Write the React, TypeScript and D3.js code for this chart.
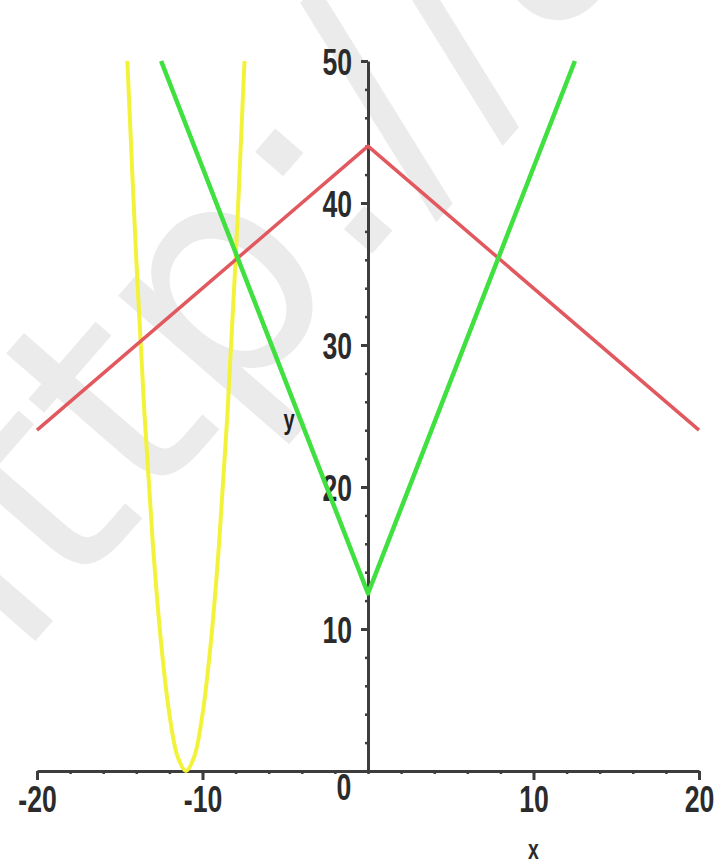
import * as d3 from 'd3'
import { useEffect, useRef } from 'react'

// three curves
const redX = [-20, 0, 20]
const redY = [24, 44, 24]
const greenX = [-12.5, 0, 12.5]
const greenY = [50, 12.5, 50]
const yellowX = [-14.54, -14, -13.5, -13, -12.5, -12, -11.5, -11, -10.5, -10, -9.5, -9, -8.5, -8, -7.5, -7.46]
const yellowY = [50, 36, 25, 16, 9, 4, 1, 0, 1, 4, 9, 16, 25, 36, 49, 50]

const xMajor = [-20, -10, 10, 20]
const yMajor = [10, 20, 30, 40, 50]
const watermark = 'http://a'

const width = 719
const height = 867

const App = () => {
  const svgRef = useRef<SVGSVGElement>(null)

  useEffect(() => {
    const svg = d3.select(svgRef.current)
    svg.selectAll('*').remove()

    const x = d3.scaleLinear([-20, 20], [37, 699])
    const y = d3.scaleLinear([0, 50], [771, 61])
    const labelFont = 'Liberation Sans, Arial, sans-serif'

    // faint watermark behind everything
    svg.append('text')
      .attr('transform', 'translate(-55,745) rotate(-49)')
      .attr('font-family', 'DejaVu Sans, sans-serif')
      .attr('font-size', 300)
      .attr('fill', '#ebebeb')
      .text(watermark)

    // axes
    const xMinor = d3.range(-20, 21, 2)
    const yMinor = d3.range(0, 51, 2)

    svg.append('g')
      .attr('transform', `translate(0,${y(0)})`)
      .call(d3.axisBottom(x).tickValues(xMinor).tickSize(3).tickSizeOuter(0).tickFormat(() => ''))
      .call(g => g.select('.domain').attr('stroke', '#3d3d3d').attr('stroke-width', 3))
      .call(g => g.selectAll('.tick line').attr('stroke', '#3d3d3d').attr('stroke-width', 2.5))

    svg.append('g')
      .attr('transform', `translate(0,${y(0)})`)
      .call(d3.axisBottom(x).tickValues(xMajor).tickSize(9).tickSizeOuter(0).tickFormat(d => String(d)))
      .call(g => g.select('.domain').remove())
      .call(g => g.selectAll('.tick line').attr('stroke', '#3d3d3d').attr('stroke-width', 3))
      .call(g => g.selectAll('.tick text')
        .attr('y', null).attr('dy', null)
        .attr('transform', 'translate(0,41) scale(0.72,1)')
        .attr('font-family', labelFont).attr('font-weight', 'bold')
        .attr('font-size', 37).attr('fill', '#2b2b2b'))

    svg.append('g')
      .attr('transform', `translate(${x(0)},0)`)
      .call(d3.axisLeft(y).tickValues(yMinor).tickSize(3).tickSizeOuter(0).tickFormat(() => ''))
      .call(g => g.select('.domain').attr('stroke', '#3d3d3d').attr('stroke-width', 3))
      .call(g => g.selectAll('.tick line').attr('stroke', '#3d3d3d').attr('stroke-width', 2.5))

    svg.append('g')
      .attr('transform', `translate(${x(0)},0)`)
      .call(d3.axisLeft(y).tickValues(yMajor).tickSize(7).tickSizeOuter(0).tickFormat(d => String(d)))
      .call(g => g.select('.domain').remove())
      .call(g => g.selectAll('.tick line').attr('stroke', '#3d3d3d').attr('stroke-width', 3))
      .call(g => g.selectAll('.tick text')
        .attr('x', null).attr('dy', '0.36em')
        .attr('transform', 'translate(-16,0) scale(0.72,1)')
        .attr('text-anchor', 'end')
        .attr('font-family', labelFont).attr('font-weight', 'bold')
        .attr('font-size', 37).attr('fill', '#2b2b2b'))

    // the lone "0" sits left of the vertical axis
    svg.append('text')
      .attr('transform', `translate(${x(0) - 24},${y(0) + 29}) scale(0.72,1)`)
      .attr('text-anchor', 'middle')
      .attr('font-family', labelFont).attr('font-weight', 'bold')
      .attr('font-size', 37).attr('fill', '#2b2b2b')
      .text('0')

    // axis names
    svg.append('text')
      .attr('transform', `translate(${x(10)},859) scale(0.72,1)`)
      .attr('text-anchor', 'middle')
      .attr('font-family', labelFont).attr('font-weight', 'bold')
      .attr('font-size', 27).attr('fill', '#2b2b2b')
      .text('x')
    svg.append('text')
      .attr('transform', `translate(289,429) scale(0.72,1)`)
      .attr('text-anchor', 'middle')
      .attr('font-family', labelFont).attr('font-weight', 'bold')
      .attr('font-size', 28).attr('fill', '#1f1f1f')
      .text('y')

    // curves
    const series = [
      { xs: yellowX, ys: yellowY, color: '#f3f23a', w: 4, curve: d3.curveCatmullRom },
      { xs: redX, ys: redY, color: '#e2585f', w: 3.5, curve: d3.curveLinear },
      { xs: greenX, ys: greenY, color: '#3fe03f', w: 4.5, curve: d3.curveLinear },
    ]
    series.forEach(s => {
      const pts: [number, number][] = s.xs.map((v, i) => [v, s.ys[i]])
      const line = d3.line<[number, number]>()
        .x(d => x(d[0]))
        .y(d => y(d[1]))
        .curve(s.curve)
      svg.append('path')
        .attr('fill', 'none')
        .attr('stroke', s.color)
        .attr('stroke-width', s.w)
        .attr('stroke-linejoin', 'round')
        .attr('d', line(pts))
    })
  }, [])

  return (
    <svg
      ref={svgRef}
      width={width}
      height={height}
      viewBox={`0 0 ${width} ${height}`}
      style={{ position: 'absolute', left: 0, top: 0, background: '#fff' }}
    />
  )
}

export default App
